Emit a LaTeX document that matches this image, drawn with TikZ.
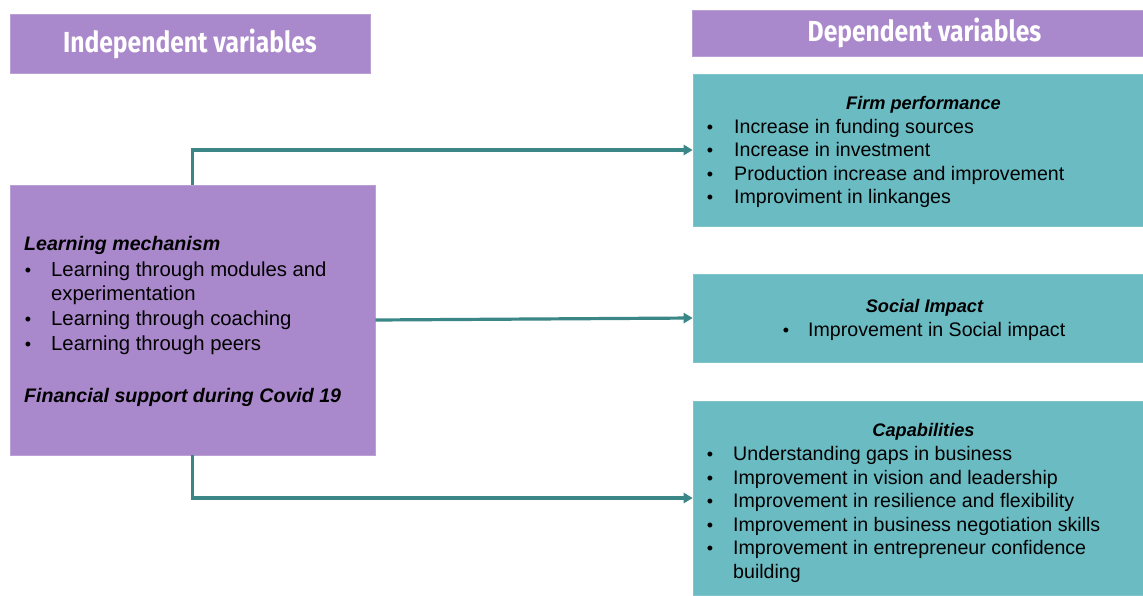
\documentclass[tikz,border=0pt]{standalone}
\usepackage{fontspec}
\setmainfont{Liberation Sans}
\newfontfamily\headfont[FakeStretch=0.85]{Fira Sans}
\usetikzlibrary{arrows.meta}
\definecolor{purp}{RGB}{170,136,204}
\definecolor{tealbox}{RGB}{107,187,195}
\definecolor{arrowc}{RGB}{59,134,134}
\tikzset{
  x=1pt, y=-1pt,
  hdr/.style={fill=purp, draw=purp!80!white, line width=0.6pt, inner sep=0pt, text=white, font=\headfont\bfseries\fontsize{29}{30}\selectfont},
  pbox/.style={fill=purp, draw=purp!80!white, line width=0.6pt, inner sep=0pt},
  tbox/.style={fill=tealbox, draw=tealbox!85!white, line width=0.6pt, inner sep=0pt},
  body/.style={anchor=base west, inner sep=0pt, font=\fontsize{19.6}{22}\selectfont},
  lbody/.style={anchor=base west, inner sep=0pt, font=\fontsize{20.3}{22}\selectfont},
  ttl/.style={anchor=base, inner sep=0pt, font=\bfseries\itshape\fontsize{18.2}{22}\selectfont},
  lttl/.style={anchor=base west, inner sep=0pt, font=\bfseries\itshape\fontsize{19.6}{22}\selectfont},
  bul/.style={anchor=base, inner sep=0pt, font=\fontsize{18}{22}\selectfont},
  conn/.style={draw=arrowc, line width=3.2pt, -{Triangle[length=9pt,width=10pt]}},
}
\begin{document}
\begin{tikzpicture}
\useasboundingbox (0,0) rectangle (1143,595);
% boxes
\node[hdr, minimum width=360pt, minimum height=59pt] (ih) at (190,43.5) {Independent variables};
\node[hdr, minimum width=451pt, minimum height=46pt] (dh) at (917.5,33) {\hspace{14pt}Dependent variables};
\node[pbox, minimum width=365pt, minimum height=270pt] (learn) at (192.5,320) {};
\node[tbox, minimum width=450pt, minimum height=152pt] (firm) at (918,150) {};
\node[tbox, minimum width=450pt, minimum height=88pt] (soc) at (918,318) {};
\node[tbox, minimum width=450pt, minimum height=194pt] (cap) at (918,498) {};
% connectors
\draw[conn] (learn.north) |- (firm.west);
\draw[conn] (learn.east) -- (soc.west);
\draw[conn] (learn.south) |- (cap.west);
% learning text
\node[lttl] (l0) at (24,250) {Learning mechanism};
\node[bul] (lb1) at (28,276) {•};
\node[lbody] (l1) at (51,276) {Learning through modules and};
\node[lbody] (l1b) at (51,300.5) {experimentation};
\node[bul] (lb2) at (28,325.5) {•};
\node[lbody] (l2) at (51,325.5) {Learning through coaching};
\node[bul] (lb3) at (28,350.5) {•};
\node[lbody] (l3) at (51,350.5) {Learning through peers};
\node[lttl] (l4) at (24,402) {Financial support during Covid 19};
% firm
\node[ttl] (f0) at (923.5,109) {Firm performance};
\node[bul] (fb1) at (710,133) {•};
\node[body] (f1) at (734,133) {Increase in funding sources};
\node[bul] (fb2) at (710,156.5) {•};
\node[body] (f2) at (734,156.5) {Increase in investment};
\node[bul] (fb3) at (710,180) {•};
\node[body] (f3) at (734,180) {Production increase and improvement};
\node[bul] (fb4) at (710,203.5) {•};
\node[body] (f4) at (734,203.5) {Improviment in linkanges};
% social
\node[ttl] (s0) at (924.5,312.5) {Social Impact};
\node[bul] (sb1) at (786,336.5) {•};
\node[body] (s1) at (808,336.5) {Improvement in Social impact};
% capabilities
\node[ttl] (c0) at (923.5,436.5) {Capabilities};
\node[bul] (cb1) at (710,460.5) {•};
\node[body] (c1) at (733,460.5) {Understanding gaps in business};
\node[bul] (cb2) at (710,484) {•};
\node[body] (c2) at (733,484) {Improvement in vision and leadership};
\node[bul] (cb3) at (710,507.5) {•};
\node[body] (c3) at (733,507.5) {Improvement in resilience and flexibility};
\node[bul] (cb4) at (710,531) {•};
\node[body] (c4) at (733,531) {Improvement in business negotiation skills};
\node[bul] (cb5) at (710,554.5) {•};
\node[body] (c5) at (733,554.5) {Improvement in entrepreneur confidence};
\node[body] (c5b) at (733,578.5) {building};
\end{tikzpicture}
\end{document}
